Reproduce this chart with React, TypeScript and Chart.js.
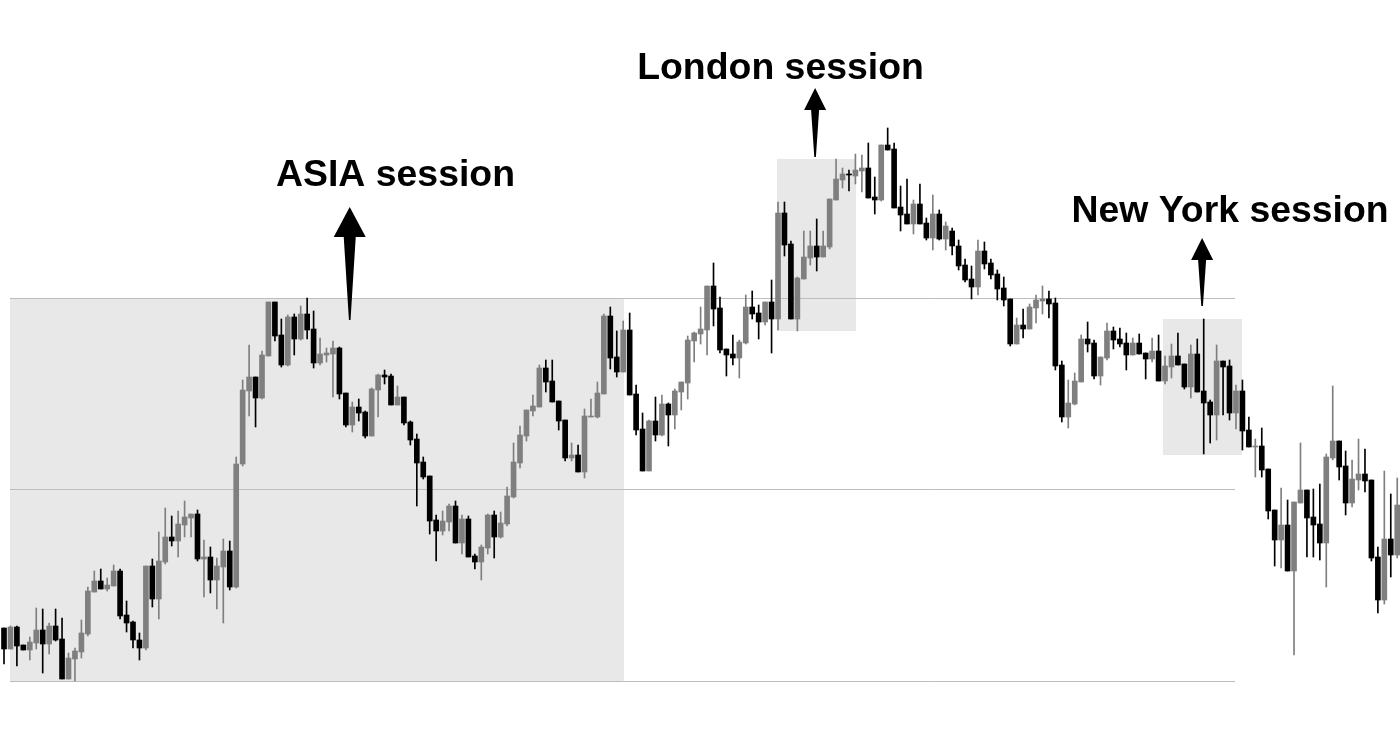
import React, { useEffect, useRef } from "react";
import { Chart, registerables } from "chart.js";

Chart.register(...registerables);

// Candle data (arbitrary price units), one entry per candle
const opens = [
  372, 351, 373, 355, 350, 357, 370, 356, 374, 361,
  321, 341, 348, 366, 408, 419, 411, 414, 429, 385,
  378, 360, 352, 434, 401, 438, 463, 459, 475, 482,
  486, 441, 443, 420, 433, 449, 413, 536, 609, 623,
  602, 644, 698, 665, 635, 683, 661, 686, 671, 637,
  645, 646, 652, 607, 575, 593, 588, 564, 610, 625,
  624, 595, 603, 578, 561, 538, 524, 480, 469, 478,
  494, 457, 481, 444, 438, 452, 485, 463, 476, 503,
  537, 564, 589, 593, 632, 619, 599, 580, 542, 545,
  528, 583, 583, 606, 684, 643, 628, 670, 606, 571,
  529, 579, 565, 596, 585, 608, 617, 659, 666, 670,
  714, 692, 651, 646, 642, 657, 693, 687, 678, 698,
  681, 787, 756, 681, 721, 742, 754, 743, 753, 800,
  820, 826, 824, 829, 832, 803, 800, 855, 851, 793,
  786, 776, 796, 777, 762, 786, 761, 769, 754, 735,
  721, 713, 749, 737, 726, 712, 701, 656, 675, 671,
  692, 699, 701, 697, 635, 583, 596, 618, 661, 657,
  624, 642, 669, 661, 657, 645, 657, 647, 641, 649,
  619, 633, 644, 636, 613, 646, 609, 598, 585, 639,
  634, 587, 609, 570, 553, 554, 531, 490, 460, 475,
  429, 497, 510, 483, 476, 457, 542, 559, 534, 497,
  520, 526, 520, 443, 400, 461, 445,
];

const highs = [
  372, 374, 374, 355, 363, 392, 391, 377, 391, 382,
  347, 352, 380, 413, 429, 431, 422, 435, 431, 399,
  379, 367, 434, 441, 468, 492, 484, 489, 499, 486,
  490, 460, 453, 442, 461, 459, 543, 620, 655, 623,
  649, 698, 698, 681, 685, 686, 694, 702, 689, 662,
  652, 659, 653, 607, 598, 601, 589, 612, 626, 630,
  626, 614, 603, 579, 566, 543, 524, 485, 489, 496,
  499, 485, 484, 446, 455, 486, 489, 488, 513, 557,
  574, 590, 605, 635, 640, 640, 599, 580, 557, 555,
  591, 601, 618, 686, 693, 669, 679, 687, 615, 587,
  580, 603, 605, 597, 611, 618, 664, 668, 693, 714,
  737, 703, 651, 665, 660, 705, 709, 695, 698, 720,
  798, 798, 759, 723, 769, 769, 781, 769, 801, 841,
  832, 830, 846, 845, 857, 823, 855, 872, 857, 814,
  821, 800, 816, 782, 805, 790, 778, 772, 760, 741,
  734, 760, 758, 741, 730, 723, 701, 682, 691, 696,
  705, 714, 709, 702, 639, 620, 627, 665, 678, 660,
  643, 677, 673, 672, 667, 662, 666, 647, 662, 665,
  644, 656, 667, 636, 655, 661, 681, 600, 655, 639,
  640, 615, 620, 583, 561, 572, 531, 490, 512, 500,
  498, 557, 510, 511, 516, 546, 614, 559, 549, 540,
  561, 551, 520, 453, 529, 506, 522,
];

const lows = [
  336, 351, 334, 350, 340, 351, 327, 346, 359, 321,
  321, 319, 342, 364, 408, 411, 409, 414, 381, 368,
  352, 340, 350, 393, 381, 436, 454, 443, 463, 463,
  439, 403, 407, 391, 377, 410, 412, 534, 584, 573,
  601, 644, 659, 633, 634, 645, 660, 661, 632, 635,
  638, 603, 601, 573, 568, 579, 562, 564, 583, 616,
  595, 595, 575, 555, 494, 521, 466, 439, 465, 469,
  457, 446, 443, 431, 420, 446, 442, 462, 474, 502,
  532, 559, 584, 593, 608, 598, 570, 539, 539, 528,
  522, 583, 582, 606, 631, 623, 628, 605, 565, 529,
  529, 559, 564, 554, 571, 590, 601, 638, 656, 645,
  674, 647, 624, 635, 622, 656, 681, 661, 675, 647,
  670, 744, 681, 669, 721, 735, 729, 743, 751, 800,
  812, 809, 816, 808, 802, 786, 799, 850, 792, 769,
  776, 766, 776, 760, 750, 760, 750, 745, 730, 718,
  701, 705, 731, 721, 700, 694, 654, 656, 662, 671,
  677, 686, 682, 630, 578, 572, 595, 618, 648, 621,
  615, 640, 651, 653, 630, 645, 646, 621, 638, 619,
  616, 622, 635, 611, 602, 608, 546, 557, 560, 585,
  580, 571, 550, 553, 523, 523, 481, 434, 432, 429,
  345, 497, 443, 443, 440, 413, 540, 520, 485, 493,
  510, 508, 439, 387, 396, 423, 442,
];

const closes = [
  351, 373, 354, 350, 358, 370, 356, 374, 360, 321,
  342, 349, 367, 409, 419, 411, 415, 429, 384, 377,
  360, 352, 434, 401, 439, 463, 459, 476, 483, 486,
  441, 443, 420, 434, 449, 413, 536, 610, 623, 602,
  645, 698, 664, 635, 683, 661, 686, 670, 637, 646,
  647, 652, 606, 575, 593, 587, 564, 611, 625, 623,
  595, 603, 577, 560, 537, 523, 479, 469, 479, 494,
  457, 481, 443, 438, 453, 485, 463, 477, 504, 538,
  565, 590, 594, 632, 618, 598, 579, 542, 545, 528,
  584, 584, 607, 684, 642, 628, 670, 605, 570, 529,
  579, 565, 596, 585, 609, 618, 660, 667, 671, 714,
  691, 650, 645, 642, 658, 693, 686, 678, 698, 681,
  787, 755, 681, 722, 743, 754, 743, 754, 801, 821,
  826, 825, 830, 832, 802, 800, 855, 850, 792, 785,
  776, 796, 776, 762, 786, 761, 774, 754, 734, 720,
  713, 749, 736, 725, 711, 700, 656, 675, 671, 693,
  700, 701, 696, 634, 583, 597, 619, 661, 656, 624,
  643, 669, 660, 656, 645, 657, 646, 641, 649, 619,
  634, 644, 635, 613, 646, 608, 597, 585, 639, 633,
  587, 609, 569, 553, 554, 530, 489, 460, 475, 429,
  498, 510, 482, 475, 457, 543, 559, 533, 497, 521,
  526, 519, 442, 400, 461, 445, 495,
];

// Horizontal reference levels (price) and their extent (candle index)
const levels = [702, 511, 319];
const levelFrom = 0.93;
const levelTo = 190.85;

// Session labels
const sessionLabels = ["ASIA session", "London session", "New York session"];
// Shaded session zones: candle index range and price range
const zoneFrom = [0.93, 119.8, 179.7];
const zoneTo = [96.1, 132.1, 191.9];
const zoneTop = [702, 841, 681];
const zoneBottom = [319, 669, 545];

// Label / arrow placement (in data units)
const labelX = [60.7, 120.39, 190.08];
const labelBaseline = [814, 921, 778];
const arrowX = [53.6, 125.75, 185.75];
const arrowTip = [793, 912, 762];
const arrowEnd = [680, 843, 694];

const GRAY = "#7f7f7f";
const BLACK = "#000000";
const ZONE = "#e8e8e8";
const LEVEL = "#bdbdbd";

export default function App() {
  const ref = useRef<HTMLCanvasElement | null>(null);

  useEffect(() => {
    const canvas = ref.current;
    if (!canvas) return;
    const idx = opens.map((_, i) => i);
    const colors = idx.map((i) => (closes[i] >= opens[i] ? GRAY : BLACK));

    const sessionPlugin = {
      id: "sessions",
      beforeDatasetsDraw(chart: any) {
        const { ctx, scales } = chart;
        const x = scales.x;
        const y = scales.y;
        ctx.save();
        ctx.fillStyle = ZONE;
        for (let k = 0; k < zoneFrom.length; k++) {
          const x0 = Math.round(x.getPixelForValue(zoneFrom[k]));
          const x1 = Math.round(x.getPixelForValue(zoneTo[k]));
          const y0 = Math.round(y.getPixelForValue(zoneTop[k]));
          const y1 = Math.round(y.getPixelForValue(zoneBottom[k]));
          ctx.fillRect(x0, y0, x1 - x0, y1 - y0);
        }
        ctx.strokeStyle = LEVEL;
        ctx.lineWidth = 1;
        for (const l of levels) {
          const py = Math.round(y.getPixelForValue(l)) + 0.5;
          ctx.beginPath();
          ctx.moveTo(Math.round(x.getPixelForValue(levelFrom)), py);
          ctx.lineTo(Math.round(x.getPixelForValue(levelTo)), py);
          ctx.stroke();
        }
        ctx.restore();
      },
      afterDatasetsDraw(chart: any) {
        const { ctx, scales } = chart;
        const x = scales.x;
        const y = scales.y;
        ctx.save();
        ctx.fillStyle = "#000";
        for (let k = 0; k < sessionLabels.length; k++) {
          const big = k === 0;
          const cx = x.getPixelForValue(arrowX[k]);
          const tip = y.getPixelForValue(arrowTip[k]);
          const end = y.getPixelForValue(arrowEnd[k]);
          const headH = big ? 30 : 22;
          const headW = big ? 16 : 11;
          const shaftW = big ? 6 : 4;
          ctx.beginPath();
          ctx.moveTo(cx, tip);
          ctx.lineTo(cx + headW, tip + headH);
          ctx.lineTo(cx + shaftW, tip + headH);
          ctx.lineTo(cx + 0.8, end);
          ctx.lineTo(cx - 0.8, end);
          ctx.lineTo(cx - shaftW, tip + headH);
          ctx.lineTo(cx - headW, tip + headH);
          ctx.closePath();
          ctx.fill();

          ctx.font = "bold 37.4px 'Liberation Sans', Arial, sans-serif";
          ctx.textAlign = "center";
          ctx.textBaseline = "alphabetic";
          ctx.fillText(
            sessionLabels[k],
            x.getPixelForValue(labelX[k]),
            y.getPixelForValue(labelBaseline[k])
          );
        }
        ctx.restore();
      },
    };

    const chart = new Chart(canvas, {
      type: "bar",
      data: {
        datasets: [
          {
            label: "body",
            data: idx.map((i) => ({ x: i, y: [opens[i], closes[i]] })) as any,
            backgroundColor: colors,
            borderWidth: 0,
            barThickness: 5,
            minBarLength: 1,
            grouped: false,
            order: 0,
          } as any,
          {
            label: "wick",
            data: idx.map((i) => ({ x: i, y: [lows[i], highs[i]] })) as any,
            backgroundColor: colors,
            borderWidth: 0,
            barThickness: 1,
            grouped: false,
            order: 1,
          } as any,
        ],
      },
      options: {
        responsive: false,
        animation: false,
        events: [],
        layout: { padding: 0 },
        plugins: {
          legend: { display: false },
          tooltip: { enabled: false },
          title: { display: false },
        },
        scales: {
          x: {
            type: "linear",
            min: -0.62,
            max: 216.43,
            offset: false,
            display: false,
          },
          y: {
            type: "linear",
            min: 251,
            max: 1000,
            display: false,
          },
        },
      } as any,
      plugins: [sessionPlugin],
    });

    return () => chart.destroy();
  }, []);

  return (
    <div
      style={{
        position: "absolute",
        left: 0,
        top: 0,
        width: 1400,
        height: 749,
        background: "#fff",
      }}
    >
      <canvas
        ref={ref}
        width={1400}
        height={749}
        style={{ display: "block", width: 1400, height: 749 }}
      />
    </div>
  );
}
